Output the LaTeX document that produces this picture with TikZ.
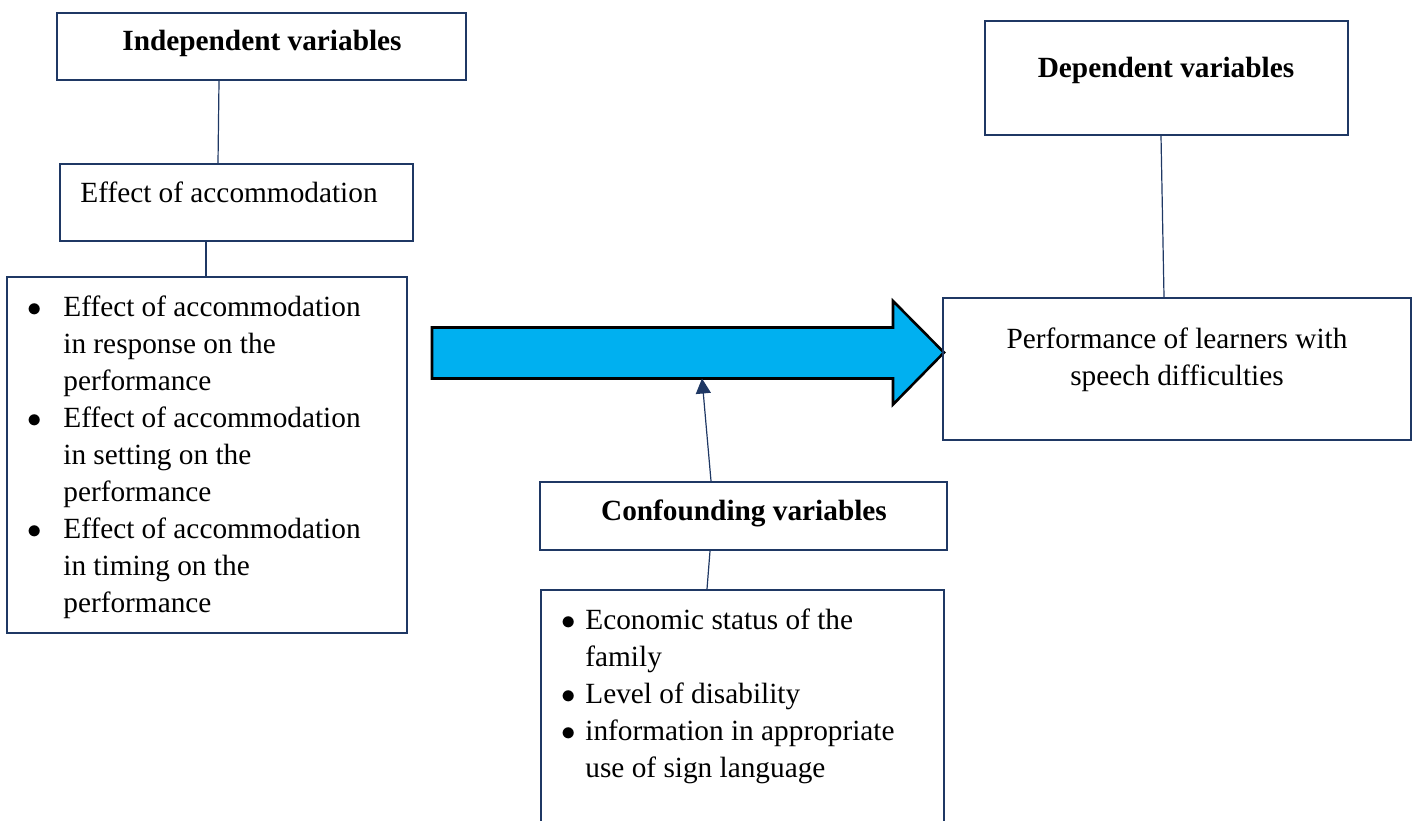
\documentclass[tikz,border=0pt]{standalone}
\usepackage{fontspec}
\setmainfont{Liberation Serif}
\usetikzlibrary{arrows.meta,fit}

\definecolor{boxblue}{HTML}{1F3864}
\definecolor{arrowfill}{HTML}{00B0F0}

\begin{document}
\begin{tikzpicture}[x=0.5pt,y=-0.5pt,
  box/.style={draw=boxblue, line width=1pt, inner sep=0pt},
  txt/.style={inner sep=0pt, font=\fontsize{14.65}{18.5}\selectfont},
  link/.style={draw=boxblue, line width=0.6pt}]

\useasboundingbox (0,0) rectangle (1412,820);
\clip (0,0) rectangle (1412,820);

% Independent variables
\node[box, fit={(57,13) (466,80)}] (indep) {};
\node[txt, anchor=base] (indeptxt) at (262,50) {\bfseries Independent variables};

\node[box, fit={(60,164) (413,241)}] (effect) {};
\node[txt, anchor=base west] (effecttxt) at (80,202) {Effect of accommodation};

\node[box, fit={(7,277) (407,633)}] (resp) {};
\node[txt, anchor=base west] (resptxt) at (27,316) {\begin{tabular}[t]{@{}p{18pt}@{}l@{}}
$\bullet$ & Effect of accommodation\\
 & in response on the\\
 & performance\\
$\bullet$ & Effect of accommodation\\
 & in setting on the\\
 & performance\\
$\bullet$ & Effect of accommodation\\
 & in timing on the\\
 & performance
\end{tabular}};

\draw[link] (indep.south -| 219,0) -- (effect.north -| 218,0);
\draw[link] (effect.south -| 206,0) -- (resp.north -| 206,0);

% Block arrow
\draw[line width=1.3pt, fill=arrowfill, line join=miter]
  (432,327.5) -- (893,327.5) -- (893,301) -- (944,352.5)
  -- (893,404.5) -- (893,378.5) -- (432,378.5) -- cycle;
\coordinate (arrowbase) at (702,378.5);

% Dependent variables
\node[box, fit={(985,21) (1348,135)}] (dep) {};
\node[txt, anchor=base] (deptxt) at (1166,77) {\bfseries Dependent variables};

\node[box, fit={(943,298) (1411,440)}] (perf) {};
\node[txt, anchor=base] (perftxt) at (1177,348) {\begin{tabular}[t]{@{}c@{}}
Performance of learners with\\
speech difficulties
\end{tabular}};

\draw[link] (dep.south -| 1161,0) -- (perf.north -| 1164,0);

% Confounding variables
\node[box, fit={(540,482) (947,550)}] (conf) {};
\node[txt, anchor=base] (conftxt) at (744,520) {\bfseries Confounding variables};

\node[box, fit={(541,590) (944,840)}] (confitems) {};
\node[txt, anchor=base west] (confitemstxt) at (561,629) {\begin{tabular}[t]{@{}p{12pt}@{}l@{}}
$\bullet$ & Economic status of the\\
 & family\\
$\bullet$ & Level of disability\\
$\bullet$ & information in appropriate\\
 & use of sign language
\end{tabular}};

\draw[link] (conf.south -| 710,0) -- (confitems.north -| 707,0);
\draw[link, -{Triangle[length=7.5pt, width=7.5pt]}] (conf.north -| 711,0) -- (arrowbase);

\end{tikzpicture}
\end{document}
